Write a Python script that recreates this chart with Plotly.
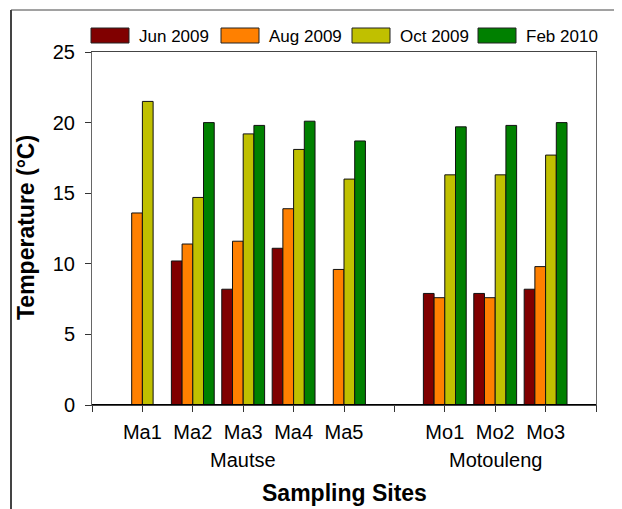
import plotly.graph_objects as go

# ---- data ----
sites = ["Ma1", "Ma2", "Ma3", "Ma4", "Ma5", "Mo1", "Mo2", "Mo3"]
site_groups = ["Mautse"] * 5 + ["Motouleng"] * 3
series_names = ["Jun 2009", "Aug 2009", "Oct 2009", "Feb 2010"]
jun_2009 = [None, 10.2, 8.2, 11.1, None, 7.9, 7.9, 8.2]
aug_2009 = [13.6, 11.4, 11.6, 13.9, 9.6, 7.6, 7.6, 9.8]
oct_2009 = [21.5, 14.7, 19.2, 18.1, 16.0, 16.3, 16.3, 17.7]
feb_2010 = [None, 20.0, 19.8, 20.1, 18.7, 19.7, 19.8, 20.0]
y_ticks = [0, 5, 10, 15, 20, 25]

series_values = [jun_2009, aug_2009, oct_2009, feb_2010]
colors = ["#800000", "#FF8000", "#C0C000", "#008000"]

# positions on the numeric x axis: one slot per site, empty slot between groups
xpos = []
p = 0
prev = None
for g in site_groups:
    p += 1
    if prev is not None and g != prev:
        p += 1
    xpos.append(p)
    prev = g
xmax = xpos[-1] + 1

FONT = "Liberation Sans, Arial, sans-serif"

fig = go.Figure()
for name, vals, col in zip(series_names, series_values, colors):
    fig.add_trace(go.Bar(
        x=xpos, y=vals, name=name,
        marker=dict(color=col, line=dict(color="#111111", width=1)),
        showlegend=False,
    ))

W, H = 622, 509
OFF = 8  # page body margin
L, R, T, B = 92 - OFF, 596 - OFF, 52 - OFF, 405 - OFF


def px_x(x):
    return (x - OFF - L) / (R - L)


def px_y(y):
    return (B - (y - OFF)) / (B - T)


tickvals = list(range(0, xmax + 1))
ticktext = [""] * len(tickvals)
for s, xp in zip(sites, xpos):
    ticktext[xp] = s

fig.update_layout(
    width=W, height=H,
    margin=dict(l=L, r=W - R, t=T, b=H - B),
    paper_bgcolor="white", plot_bgcolor="white",
    barmode="group", bargap=0.15, bargroupgap=0,
    font=dict(family=FONT, color="black", size=20),
    xaxis=dict(
        range=[0, xmax], tickvals=tickvals, ticktext=ticktext,
        ticks="outside", ticklen=6, tickcolor="#333333",
        showline=True, linecolor="#444444", linewidth=1, mirror=True,
        showgrid=False, zeroline=False,
        tickfont=dict(size=20, family=FONT),
        ticklabelstandoff=3,
    ),
    yaxis=dict(
        range=[0, 25], tickvals=y_ticks,
        ticks="outside", ticklen=6, tickcolor="#333333",
        showline=True, linecolor="#666666", linewidth=1, mirror=True,
        showgrid=False, zeroline=False,
        tickfont=dict(size=20, family=FONT),
        ticklabelstandoff=6,
    ),
)

# thick baseline
fig.add_shape(type="line", xref="paper", yref="y", x0=0, x1=1, y0=0, y1=0,
              line=dict(color="black", width=2))

# outer frame (top and left edges)
fig.add_shape(type="line", xref="paper", yref="paper",
              x0=px_x(11), x1=px_x(W + 20), y0=px_y(10), y1=px_y(10),
              line=dict(color="#444444", width=1))
fig.add_shape(type="line", xref="paper", yref="paper",
              x0=px_x(11), x1=px_x(11), y0=px_y(10), y1=px_y(H + 20),
              line=dict(color="#444444", width=2))

# custom legend
sw_left = [91, 221, 352, 478]
for name, col, xl in zip(series_names, colors, sw_left):
    fig.add_shape(type="rect", xref="paper", yref="paper",
                  x0=px_x(xl), x1=px_x(xl + 38), y0=px_y(43), y1=px_y(28),
                  fillcolor=col, line=dict(color="#222222", width=1))
    fig.add_annotation(xref="paper", yref="paper", x=px_x(xl + 46), y=px_y(36),
                       text=name, showarrow=False, xanchor="left", yanchor="middle",
                       font=dict(size=17, family=FONT, color="black"))

# group labels
groups_unique = []
for g in site_groups:
    if g not in groups_unique:
        groups_unique.append(g)
for g in groups_unique:
    xs = [xp for xp, gg in zip(xpos, site_groups) if gg == g]
    fig.add_annotation(xref="x", yref="paper", x=sum(xs) / len(xs), y=px_y(460),
                       text=g, showarrow=False, yanchor="middle",
                       font=dict(size=20, family=FONT, color="black"))

# axis titles
fig.add_annotation(xref="paper", yref="paper", x=0.5, y=px_y(493),
                   text="<b>Sampling Sites</b>", showarrow=False, yanchor="middle",
                   font=dict(size=23, family=FONT, color="black"))
fig.add_annotation(xref="paper", yref="paper", x=px_x(26), y=px_y(228),
                   text="<b>Temperature (°C)</b>", showarrow=False, textangle=-90,
                   xanchor="center", yanchor="middle",
                   font=dict(size=23, family=FONT, color="black"))

fig.write_html("out.html")
